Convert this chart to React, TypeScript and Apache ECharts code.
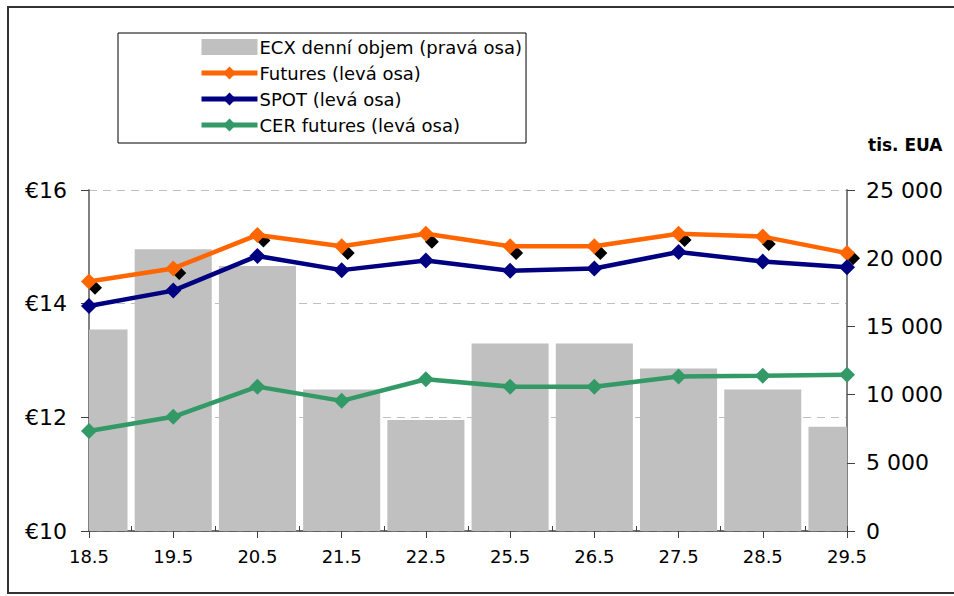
import React, { useEffect, useRef } from "react";
import * as echarts from "echarts";

const categories = ["18.5", "19.5", "20.5", "21.5", "22.5", "25.5", "26.5", "27.5", "28.5", "29.5"];
const volume = [14780, 20660, 19430, 10370, 8140, 13750, 13750, 11910, 10370, 7650];
const futures = [14.39, 14.62, 15.21, 15.01, 15.23, 15.01, 15.01, 15.23, 15.18, 14.89];
const spot = [13.96, 14.23, 14.84, 14.59, 14.76, 14.58, 14.62, 14.91, 14.74, 14.64];
const cerFutures = [11.76, 12.01, 12.54, 12.29, 12.67, 12.54, 12.54, 12.72, 12.73, 12.75];
const blackMarkers = [14.28, 14.54, 15.11, 14.89, 15.09, 14.89, 14.89, 15.12, 15.05, 14.8];
const leftTicks = { min: 10, max: 16, interval: 2 };
const rightTicks = { min: 0, max: 25000, interval: 5000 };

const names = {
  vol: "ECX denní objem (pravá osa)",
  fut: "Futures (levá osa)",
  spot: "SPOT (levá osa)",
  cer: "CER futures (levá osa)",
};

const FONT = "DejaVu Sans";

export default function App() {
  const ref = useRef<HTMLDivElement>(null);
  useEffect(() => {
    if (!ref.current) return;
    const chart = echarts.init(ref.current, null, { renderer: "svg" });
    const fmtRight = (v: number) => {
      if (v === 0) return "0";
      const s = String(v);
      return s.slice(0, s.length - 3) + " " + s.slice(s.length - 3);
    };
    const renderBar = (params: any, api: any) => {
      const idx = api.value(0);
      const val = api.value(1);
      const top = api.coord([idx, val]);
      const base = api.coord([idx, 0]);
      const bw = api.size([1, 0])[0] * 0.915;
      const rect = echarts.graphic.clipRectByRect(
        { x: top[0] - bw / 2, y: top[1], width: bw, height: base[1] - top[1] },
        {
          x: params.coordSys.x,
          y: params.coordSys.y,
          width: params.coordSys.width,
          height: params.coordSys.height,
        }
      );
      if (!rect) return null;
      return { type: "rect", shape: rect, style: { fill: "#C0C0C0" } };
    };
    chart.setOption({
      animation: false,
      backgroundColor: "#ffffff",
      textStyle: { fontFamily: FONT },
      grid: { left: 89, right: 107, top: 190, bottom: 65, containLabel: false },
      legend: {
        orient: "vertical",
        left: 118,
        top: 33,
        data: [
          { name: names.vol, icon: "rect", itemStyle: { color: "#C0C0C0" } },
          { name: names.fut },
          { name: names.spot },
          { name: names.cer },
        ],
        backgroundColor: "#ffffff",
        borderColor: "#000000",
        borderWidth: 1,
        padding: [5, 4, 9, 81],
        itemWidth: 56,
        itemHeight: 16,
        itemGap: 8,
        lineStyle: { width: 5 },
        textStyle: { fontFamily: FONT, fontSize: 18, color: "#000", padding: [0, 0, 0, -3] },
        selectedMode: false,
      },
      xAxis: [
        {
          type: "category",
          data: categories,
          boundaryGap: false,
          axisLine: { lineStyle: { color: "#404040", width: 1.5 } },
          axisTick: { show: true, length: 7, lineStyle: { color: "#404040" } },
          axisLabel: { fontFamily: FONT, fontSize: 18, color: "#000", margin: 16 },
          splitLine: { show: false },
        },
        {
          type: "value",
          position: "bottom",
          min: 0,
          max: 18,
          interval: 1,
          axisLine: { show: false },
          axisTick: { show: true, inside: true, length: 5, lineStyle: { color: "#404040" } },
          axisLabel: { show: false },
          splitLine: { show: false },
        },
      ],
      yAxis: [
        {
          type: "value",
          ...leftTicks,
          position: "left",
          axisLine: { show: true, lineStyle: { color: "#808080", width: 2 } },
          axisTick: { show: true, length: 8, lineStyle: { color: "#404040" } },
          axisLabel: {
            fontFamily: FONT,
            fontSize: 22,
            color: "#000",
            margin: 22,
            formatter: (v: number) => "€" + v,
          },
          splitLine: { show: true, lineStyle: { color: "#C0C0C0", type: [8, 6], width: 1 } },
        },
        {
          type: "value",
          ...rightTicks,
          position: "right",
          axisLine: { show: true, lineStyle: { color: "#808080", width: 2 } },
          axisTick: { show: true, length: 8, lineStyle: { color: "#404040" } },
          axisLabel: { fontFamily: FONT, fontSize: 22, color: "#000", margin: 19, formatter: fmtRight },
          splitLine: { show: false },
        },
      ],
      graphic: [
        {
          type: "rect",
          shape: { x: 8, y: 7, width: 970, height: 586 },
          style: { fill: "none", stroke: "#333333", lineWidth: 2 },
          silent: true,
          z: 100,
        },
        {
          type: "text",
          left: 868,
          top: 136,
          style: { text: "tis. EUA", font: "bold 17px " + FONT, fill: "#000" },
          z: 100,
        },
      ],
      series: [
        {
          name: names.vol,
          type: "custom",
          yAxisIndex: 1,
          xAxisIndex: 0,
          data: volume.map((v, i) => [i, v]),
          encode: { x: 0, y: 1 },
          renderItem: renderBar,
          itemStyle: { color: "#C0C0C0" },
          z: 1,
        },
        {
          name: "black",
          type: "scatter",
          yAxisIndex: 0,
          data: blackMarkers,
          symbol: "diamond",
          symbolSize: 14,
          symbolOffset: [6, 0],
          itemStyle: { color: "#000000", opacity: 1 },
          z: 2,
        },
        {
          name: names.fut,
          type: "line",
          yAxisIndex: 0,
          data: futures,
          symbol: "diamond",
          symbolSize: 16,
          lineStyle: { color: "#FF6600", width: 4.5 },
          itemStyle: { color: "#FF6600" },
          z: 3,
        },
        {
          name: names.spot,
          type: "line",
          yAxisIndex: 0,
          data: spot,
          symbol: "diamond",
          symbolSize: 16,
          lineStyle: { color: "#000080", width: 4.5 },
          itemStyle: { color: "#000080" },
          z: 3,
        },
        {
          name: names.cer,
          type: "line",
          yAxisIndex: 0,
          data: cerFutures,
          symbol: "diamond",
          symbolSize: 16,
          lineStyle: { color: "#339966", width: 4.5 },
          itemStyle: { color: "#339966" },
          z: 3,
        },
      ],
    });
    return () => chart.dispose();
  }, []);
  return (
    <div
      ref={ref}
      style={{ position: "fixed", left: 0, top: 0, width: 954, height: 596 }}
    />
  );
}
